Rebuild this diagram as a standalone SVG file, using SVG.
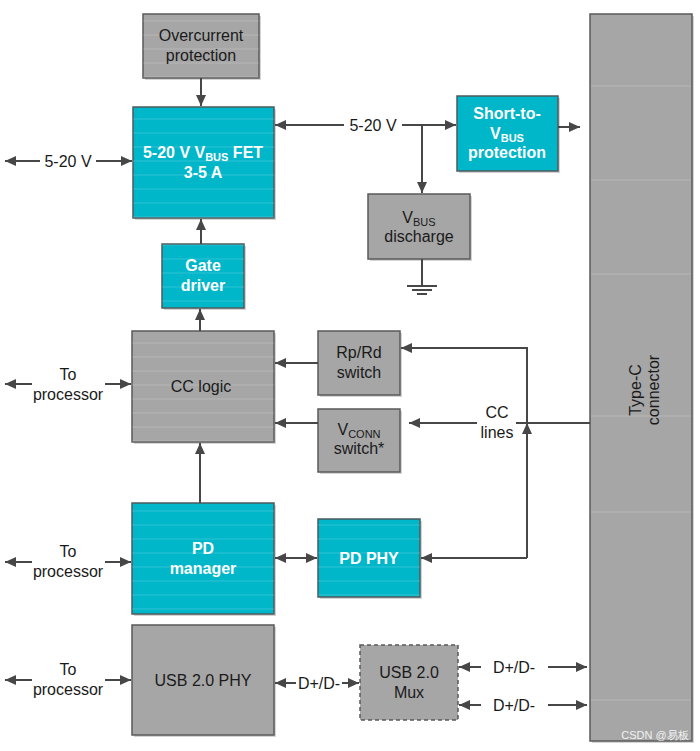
<svg xmlns="http://www.w3.org/2000/svg" width="700" height="751" viewBox="0 0 700 751">
<style>
text{font-family:"Liberation Sans",Arial,sans-serif;font-size:16px;text-anchor:middle}
.g{fill:#a6a6a6;stroke:#5a5a5a;stroke-width:1.5}
.t{fill:#00b6c9;stroke:#4d5a5e;stroke-width:1.5}
.sh{fill:#d4d4d4}
.dk{fill:#1a1a1a}
.wt{fill:#fff;font-weight:bold}
.sub{font-size:11px}
.c{fill:none;stroke:#474747;stroke-width:2}
.str{stroke:#fff;stroke-opacity:0.22;stroke-width:1}
</style>
<defs>
<marker id="ah" markerUnits="userSpaceOnUse" markerWidth="12" markerHeight="10" refX="11" refY="5" orient="auto-start-reverse">
<path d="M0,0 L11,5 L0,10 z" fill="#474747"/>
</marker>
<pattern id="stripes" patternUnits="userSpaceOnUse" width="10" height="14">
<line x1="0" y1="7" x2="10" y2="7" stroke="#ffffff" stroke-opacity="0.18" stroke-width="1"/>
</pattern>
</defs>

<g id="overcurrent">
<rect class="sh" x="145" y="16" width="116" height="64"/>
<rect class="g" x="143" y="14" width="116" height="64"/>
<rect x="143" y="14" width="116" height="64" fill="url(#stripes)"/>
<text class="dk" x="201" y="41">Overcurrent</text>
<text class="dk" x="201" y="61">protection</text>
</g>

<g id="vbus-fet">
<rect class="sh" x="135" y="109" width="141" height="111"/>
<rect class="t" x="133" y="107" width="141" height="111"/>
<rect x="133" y="107" width="141" height="111" fill="url(#stripes)"/>
<text class="wt" x="203" y="158">5-20 V V<tspan class="sub" dy="3">BUS</tspan><tspan dy="-3"> FET</tspan></text>
<text class="wt" x="203" y="178">3-5 A</text>
</g>

<g id="short-to-vbus">
<rect class="sh" x="459" y="98" width="101" height="75"/>
<rect class="t" x="457" y="96" width="101" height="75"/>
<text class="wt" x="507" y="119">Short-to-</text>
<text class="wt" x="507" y="139">V<tspan class="sub" dy="3">BUS</tspan></text>
<text class="wt" x="507" y="158">protection</text>
</g>

<g id="vbus-discharge">
<rect class="sh" x="370" y="196" width="102" height="65"/>
<rect class="g" x="368" y="194" width="102" height="65"/>
<text class="dk" x="419" y="223">V<tspan class="sub" dy="3">BUS</tspan></text>
<text class="dk" x="419" y="242">discharge</text>
</g>

<g id="gate-driver">
<rect class="sh" x="164" y="246" width="82" height="64"/>
<rect class="t" x="162" y="244" width="82" height="64"/>
<rect x="162" y="244" width="82" height="64" fill="url(#stripes)"/>
<text class="wt" x="203" y="271">Gate</text>
<text class="wt" x="203" y="291">driver</text>
</g>

<g id="cc-logic">
<rect class="sh" x="134" y="333" width="142" height="111"/>
<rect class="g" x="132" y="331" width="142" height="111"/>
<rect x="132" y="331" width="142" height="111" fill="url(#stripes)"/>
<text class="dk" x="201" y="392">CC logic</text>
</g>

<g id="rprd-switch">
<rect class="sh" x="320" y="333" width="82" height="64"/>
<rect class="g" x="318" y="331" width="82" height="64"/>
<text class="dk" x="359" y="358">Rp/Rd</text>
<text class="dk" x="359" y="378">switch</text>
</g>

<g id="vconn-switch">
<rect class="sh" x="320" y="411" width="82" height="63"/>
<rect class="g" x="318" y="409" width="82" height="63"/>
<text class="dk" x="359" y="435">V<tspan class="sub" dy="3">CONN</tspan></text>
<text class="dk" x="359" y="454">switch*</text>
</g>

<g id="pd-manager">
<rect class="sh" x="134" y="505" width="142" height="111"/>
<rect class="t" x="132" y="503" width="142" height="111"/>
<rect x="132" y="503" width="142" height="111" fill="url(#stripes)"/>
<text class="wt" x="203" y="554">PD</text>
<text class="wt" x="203" y="574">manager</text>
</g>

<g id="pd-phy">
<rect class="sh" x="320" y="521" width="102" height="78"/>
<rect class="t" x="318" y="519" width="102" height="78"/>
<rect x="318" y="519" width="102" height="78" fill="url(#stripes)"/>
<text class="wt" x="369" y="564">PD PHY</text>
</g>

<g id="usb-phy">
<rect class="sh" x="134" y="627" width="142" height="110"/>
<rect class="g" x="132" y="625" width="142" height="110"/>
<text class="dk" x="203" y="686">USB 2.0 PHY</text>
</g>

<g id="usb-mux">
<rect class="g" x="360" y="645" width="98" height="75" stroke-dasharray="4,3"/>
<text class="dk" x="409" y="678">USB 2.0</text>
<text class="dk" x="409" y="698">Mux</text>
</g>

<g id="type-c">
<rect class="sh" x="592" y="16" width="102" height="727"/>
<rect class="g" x="590" y="14" width="102" height="727"/>
<g class="str">
<line x1="591" y1="86" x2="691" y2="86"/>
<line x1="591" y1="180" x2="691" y2="180"/>
<line x1="591" y1="274" x2="691" y2="274"/>
<line x1="591" y1="416" x2="691" y2="416"/>
<line x1="591" y1="512" x2="691" y2="512"/>
<line x1="591" y1="700" x2="691" y2="700"/>
</g>
<text class="dk" transform="translate(645,390) rotate(-90)" y="-4">Type-C</text>
<text class="dk" transform="translate(645,390) rotate(-90)" y="14">connector</text>
<text x="655" y="739" style="font-size:11px;fill:#f2f2f2">CSDN @易板</text>
</g>

<g id="connectors">
<path class="c" d="M201,78 V106" marker-end="url(#ah)"/>
<path class="c" d="M344,125 H275" marker-end="url(#ah)"/>
<path class="c" d="M402,125 H456" marker-end="url(#ah)"/>
<path class="c" d="M422,125 V193" marker-end="url(#ah)"/>
<path class="c" d="M558,127 H580" marker-end="url(#ah)"/>
<path class="c" d="M422,259 V286"/>
<path class="c" d="M407,286 H437 M412,290 H432 M417,294 H427" stroke-width="1.5"/>

<path class="c" d="M40,161 H5" marker-end="url(#ah)"/>
<path class="c" d="M96,161 H132" marker-end="url(#ah)"/>

<path class="c" d="M201,244 V219" marker-end="url(#ah)"/>
<path class="c" d="M200,331 V309" marker-end="url(#ah)"/>

<path class="c" d="M32,384 H5" marker-end="url(#ah)"/>
<path class="c" d="M105,384 H131" marker-end="url(#ah)"/>

<path class="c" d="M318,363 H275" marker-end="url(#ah)"/>
<path class="c" d="M318,423 H275" marker-end="url(#ah)"/>

<path class="c" d="M590,423 H516"/>
<path class="c" d="M477,423 H409" marker-end="url(#ah)"/>
<path class="c" d="M527,558 H421" marker-end="url(#ah)"/>
<path class="c" d="M527,558 V423" marker-end="url(#ah)"/>
<path class="c" d="M527,423 V348 H401" marker-end="url(#ah)"/>

<path class="c" d="M275,558 H317" marker-start="url(#ah)" marker-end="url(#ah)"/>
<path class="c" d="M200,503 V443" marker-end="url(#ah)"/>

<path class="c" d="M32,562 H5" marker-end="url(#ah)"/>
<path class="c" d="M105,562 H131" marker-end="url(#ah)"/>

<path class="c" d="M32,680 H5" marker-end="url(#ah)"/>
<path class="c" d="M105,680 H131" marker-end="url(#ah)"/>

<path class="c" d="M296,683 H275" marker-end="url(#ah)"/>
<path class="c" d="M342,683 H359" marker-end="url(#ah)"/>

<path class="c" d="M481,667 H459" marker-end="url(#ah)"/>
<path class="c" d="M548,667 H587" marker-end="url(#ah)"/>
<path class="c" d="M481,705 H459" marker-end="url(#ah)"/>
<path class="c" d="M548,705 H587" marker-end="url(#ah)"/>
</g>

<g id="labels">
<text class="dk" x="373" y="131">5-20 V</text>
<text class="dk" x="68" y="167">5-20 V</text>
<text class="dk" x="68" y="380">To</text>
<text class="dk" x="68" y="400">processor</text>
<text class="dk" x="497" y="418">CC</text>
<text class="dk" x="497" y="438">lines</text>
<text class="dk" x="68" y="557">To</text>
<text class="dk" x="68" y="577">processor</text>
<text class="dk" x="68" y="675">To</text>
<text class="dk" x="68" y="695">processor</text>
<text class="dk" x="319" y="689">D+/D-</text>
<text class="dk" x="514" y="673">D+/D-</text>
<text class="dk" x="514" y="711">D+/D-</text>
</g>
</svg>
